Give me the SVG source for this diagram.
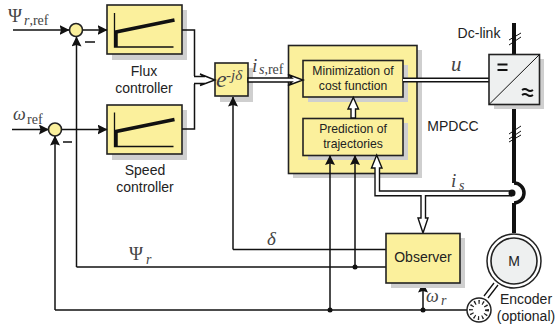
<svg xmlns="http://www.w3.org/2000/svg" width="555" height="333" viewBox="0 0 555 333">
<style>
.y{fill:#fbf09c;stroke:#222;stroke-width:1.6}
.g{fill:#eef0f0;stroke:#222;stroke-width:1.6}
.s{fill:#cfcfcf;stroke:none}
.w{fill:none;stroke:#111;stroke-width:1.5}
.t{font-family:"Liberation Sans",Arial,sans-serif;font-size:14px;fill:#222;text-anchor:middle}
.c{font-size:12.200px}
.m{font-family:"Liberation Serif","Times New Roman",serif;fill:#444}
.i{font-style:italic}
.o{fill:#fff;stroke:#111;stroke-width:1.4}
</style>
<defs>
<marker id="a" markerUnits="userSpaceOnUse" markerWidth="10" markerHeight="10" refX="9.500" refY="5" orient="auto"><path d="M0 0L10 5L0 10L1.500 5Z" fill="#111"/></marker>
<g id="curve"><path d="M0 0V34H59" fill="none" stroke="#111" stroke-width="1.300"/><path d="M1.500 34V19L60 7" fill="none" stroke="#111" stroke-width="3.500"/></g>
</defs>
<g id="mpdcc">
<rect class="s" x="293" y="50" width="129" height="128"/><rect class="y" x="288.500" y="45.500" width="128.500" height="128"/>
<text class="t" x="453" y="131">MPDCC</text>
</g>
<g id="flux-controller">
<rect class="s" x="112" y="10" width="75" height="50"/><rect class="y" x="107" y="5" width="75" height="49"/>
<use href="#curve" x="114.500" y="13"/>
<text class="t" x="144" y="76">Flux</text><text class="t" x="144" y="93">controller</text>
</g>
<g id="speed-controller">
<rect class="s" x="112" y="110" width="75" height="50"/><rect class="y" x="107" y="105" width="75" height="49"/>
<use href="#curve" x="114.500" y="112.500"/>
<text class="t" x="145" y="175">Speed</text><text class="t" x="145" y="192">controller</text>
</g>
<g id="rotation">
<rect class="s" x="220" y="68" width="33" height="34"/><rect class="y" x="215" y="63" width="33" height="33"/>
<text class="m i" x="216" y="87" font-size="24">e</text><text class="m" x="226" y="80" font-size="15">-<tspan class="i">jδ</tspan></text>
</g>
<g id="minimization">
<rect class="s" x="308" y="65" width="100" height="37"/><rect class="y" x="303" y="60.500" width="100" height="36.500"/>
<text class="t c" x="353" y="75">Minimization of</text><text class="t c" x="353" y="90">cost function</text>
</g>
<g id="prediction">
<rect class="s" x="308" y="123" width="100" height="37"/><rect class="y" x="303" y="118.500" width="100" height="37"/>
<text class="t c" x="353" y="133">Prediction of</text><text class="t c" x="353" y="148">trajectories</text>
</g>
<g id="connectors">
<path class="w" d="M13 30H69" marker-end="url(#a)"/>
<path class="w" d="M82 30H107" marker-end="url(#a)"/>
<path class="w" d="M12 129.500H48.500" marker-end="url(#a)"/>
<path class="w" d="M61 129.500H107" marker-end="url(#a)"/>
<path class="w" d="M182 30H194.500V76M182 129H194.500V84"/>
<path class="w" d="M76.500 267V37" marker-end="url(#a)"/>
<path class="w" d="M76.500 267H386"/>
<path class="w" d="M55 310V136" marker-end="url(#a)"/>
<path class="w" d="M55 310H467"/>
<path class="w" d="M233 249.500V97" marker-end="url(#a)"/>
<path class="w" d="M233 249.500H386"/>
<path class="w" d="M330 310V155.500" marker-end="url(#a)"/>
<path class="w" d="M355 267V155.500" marker-end="url(#a)"/>
<path class="w" d="M423 310V283" marker-end="url(#a)"/>
<path d="M194 76.500H205L200 74L215 80L200 85.500L205 83.500H194" class="o"/>
<path d="M248 78H292L288 74.500L303 80L288 85.500L292 82H248Z" class="o"/>
<path d="M403 80H489" fill="none" stroke="#111" stroke-width="5"/><path d="M403 80H489" fill="none" stroke="#fff" stroke-width="1.800"/>
<path d="M351 118V109H348L353.300 97.500L358.500 109H355.500V118Z" class="o"/>
<path d="M512 191H379.500V168H382L376.700 155L371.500 168H375V195.700H421V218H418L423 233L428 218H425.500V195.700H512" class="o"/>
<path d="M514 23V54M514 104V183M514 203V233" fill="none" stroke="#111" stroke-width="4"/>
<path d="M514 183A10 10 0 0 1 514 203" fill="none" stroke="#111" stroke-width="3.500"/>
<path d="M509 45L521 37M509 40L521 33M509 134L521 126M509 139L521 131M509 142L521 135" fill="none" stroke="#111" stroke-width="1"/>
<circle cx="512" cy="193" r="3.500" fill="#111"/>
<circle cx="330" cy="310" r="2.500" fill="#111"/><circle cx="423" cy="310" r="2.500" fill="#111"/><circle cx="355" cy="267" r="2.500" fill="#111"/>
<path d="M498 285L488 298M494 283L484 296" fill="none" stroke="#111" stroke-width="1.300"/>
<path d="M85 42H95M63 142H72" fill="none" stroke="#111" stroke-width="1.500"/>
</g>
<g id="sum-flux"><circle cx="76" cy="30" r="6.500" class="y"/></g>
<g id="sum-speed"><circle cx="55" cy="129.500" r="6.500" class="y"/></g>
<g id="converter">
<rect class="s" x="494" y="59" width="50" height="50"/><rect class="g" x="489" y="54.500" width="50.500" height="50"/>
<path d="M489 104.500L539.500 54.500" stroke="#111" stroke-width="1"/>
<path d="M497.500 64.500H507.500M497.500 70H507.500" stroke="#111" stroke-width="2"/>
<path d="M522 90q3 -2 5.500 0t5.500 0M522 95q3 -2 5.500 0t5.500 0" fill="none" stroke="#111" stroke-width="2"/>
<text class="t" x="479" y="37.500">Dc-link</text>
</g>
<g id="observer">
<rect class="s" x="391" y="238" width="74" height="50"/><rect class="y" x="386" y="233.500" width="74" height="49.500"/>
<text class="t" x="423" y="262">Observer</text>
</g>
<g id="motor">
<circle cx="514" cy="261" r="27" fill="#fff" stroke="#222" stroke-width="1.500"/><circle cx="514" cy="261" r="23" class="g"/>
<text class="t" x="514" y="266">M</text>
</g>
<g id="encoder">
<circle cx="479" cy="310" r="12" fill="#fff" stroke="#222" stroke-width="1.500"/>
<circle cx="479" cy="310" r="8" fill="none" stroke="#222" stroke-width="4" stroke-dasharray="1.300 2.800"/>
<text class="t" x="526" y="304">Encoder</text><text class="t" x="526" y="321">(optional)</text>
</g>
<g id="labels" class="m">
<text x="8" y="22" font-size="19">Ψ</text><text x="24" y="25" font-size="14"><tspan class="i">r</tspan>,ref</text>
<text x="13" y="120" font-size="18" class="i">ω</text><text x="27" y="124" font-size="14">ref</text>
<text x="252" y="72" font-size="19" class="i">i</text><text x="259" y="74" font-size="14"><tspan class="i">s</tspan>,ref</text>
<text x="451" y="71" font-size="21" class="i">u</text>
<text x="451" y="187" font-size="19" class="i">i</text><text x="459" y="190" font-size="14" class="i">s</text>
<text x="267" y="245" font-size="19" class="i">δ</text>
<text x="129" y="260" font-size="19">Ψ</text><text x="146" y="264" font-size="14" class="i">r</text>
<text x="426" y="302" font-size="18" class="i">ω</text><text x="441" y="305" font-size="14" class="i">r</text>
</g>
</svg>
